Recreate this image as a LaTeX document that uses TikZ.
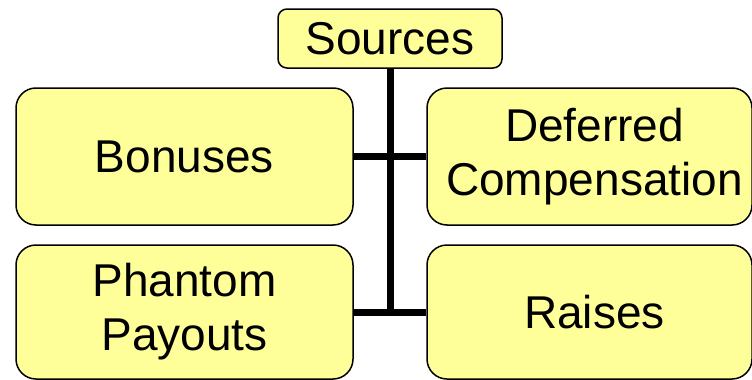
\documentclass[tikz,border=0pt]{standalone}
\usepackage{fontspec}
\setmainfont{Liberation Sans}
\definecolor{boxyellow}{HTML}{FFFF99}
\newcommand{\rpad}{\hspace*{10pt}}

\begin{document}
\begin{tikzpicture}[x=1pt,y=-1pt]

      \useasboundingbox (0,0) rectangle (752,380);

      \begin{scope}[every node/.style={draw,fill=boxyellow,line width=1.5pt,
          rounded corners=20pt,align=center,inner sep=0pt,
          font=\fontsize{46}{54}\selectfont}]
        \node[rounded corners=9pt,minimum width=224pt,minimum height=59pt]
          (src) at (390,38.5) {Sources};
        \node[minimum width=337pt,minimum height=137pt] (bon) at (184.5,156.5) {Bonuses};
        \node[minimum width=325pt,minimum height=137pt] (def) at (589.5,156.5) {\rpad Deferred\\\rpad Compensation};
        \node[minimum width=337pt,minimum height=134pt] (pha) at (184.5,312) {Phantom\\Payouts};
        \node[minimum width=325pt,minimum height=134pt] (rai) at (589.5,312) {\rpad Raises};
      \end{scope}

      \begin{scope}[every path/.style={draw,line width=7pt}]
        \path (src.south) -- (src.south |- pha.east);
        \path (bon) -- (def);
        \path (pha) -- (rai);
      \end{scope}

    \end{tikzpicture}
\end{document}
